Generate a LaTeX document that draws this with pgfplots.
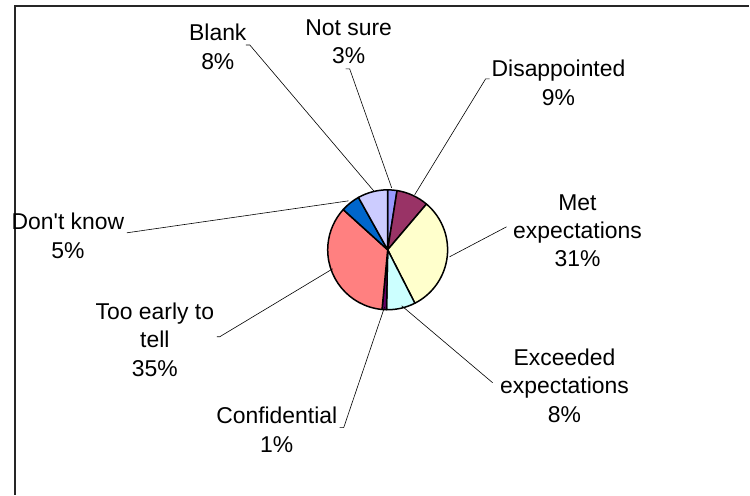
\documentclass[border=0pt]{standalone}
\usepackage{pgfplots}
\pgfplotsset{compat=1.18}
\usepackage{fontspec}
\setmainfont{Liberation Sans}
\definecolor{cNotSure}{RGB}{153,153,255}
\definecolor{cDisap}{RGB}{153,51,102}
\definecolor{cMet}{RGB}{255,255,204}
\definecolor{cExc}{RGB}{204,255,255}
\definecolor{cConf}{RGB}{102,0,102}
\definecolor{cEarly}{RGB}{255,128,128}
\definecolor{cDK}{RGB}{0,102,204}
\definecolor{cBlank}{RGB}{204,204,255}
\begin{document}
\begin{tikzpicture}
\begin{axis}[
  scale only axis, width=750bp, height=495bp,
  xmin=0, xmax=750, ymin=0, ymax=495, y dir=reverse,
  hide axis, clip=false,
]
\pgfplotsextra{
  \path (axis cs:0,0) rectangle (axis cs:750,495);
  % frame
  \draw[line width=1.3bp, black!85] (axis cs:15,495) -- (axis cs:15,6) -- (axis cs:750,6);
  % pie wedges: value / colour, clockwise from 12 o'clock
  \gdef\cum{0}
  \foreach \v/\c in {2.5/cNotSure, 8.7/cDisap, 31.3/cMet, 7.8/cExc, 1.2/cConf, 35.2/cEarly, 5.2/cDK, 8.1/cBlank}{
    \pgfmathsetmacro\a{90-3.6*\cum}
    \pgfmathsetmacro\b{90-3.6*(\cum+\v)}
    \filldraw[fill=\c, draw=black, line width=1.5bp, line join=round]
      (axis cs:388,250) -- ++(\a:60bp) arc[start angle=\a, end angle=\b, radius=60bp] -- cycle;
    \pgfmathsetmacro\n{\cum+\v}\xdef\cum{\n}
  }
  % leader lines
  \begin{scope}[line width=0.6bp]
  \draw (axis cs:246,45) -- (axis cs:250,45) -- (axis cs:374,191);
  \draw (axis cs:346,69) -- (axis cs:350,69) -- (axis cs:392,188);
  \draw (axis cs:490,79) -- (axis cs:486,79) -- (axis cs:415,195);
  \draw (axis cs:507,227) -- (axis cs:450,257);
  \draw (axis cs:493,383) -- (axis cs:402,306);
  \draw (axis cs:340,428) -- (axis cs:344,428) -- (axis cs:385,307);
  \draw (axis cs:217,337) -- (axis cs:220,337) -- (axis cs:333,269);
  \draw (axis cs:127,233) -- (axis cs:349,201);
  \end{scope}
  % labels
  \begin{scope}[every node/.style={align=center, inner sep=0pt, font=\fontsize{23}{28.5}\selectfont}]
  \node at (axis cs:218,47) {Blank\\8\%};
  \node at (axis cs:349,42) {Not sure\\3\%};
  \node at (axis cs:559,83) {Disappointed\\9\%};
  \node at (axis cs:578,231) {Met\\expectations\\31\%};
  \node at (axis cs:565,386) {Exceeded\\expectations\\8\%};
  \node at (axis cs:277,430) {Confidential\\1\%};
  \node at (axis cs:155,340) {Too early to\\tell\\35\%};
  \node at (axis cs:68,236) {Don\textquotesingle t know\\5\%};
  \end{scope}
}
\end{axis}
\end{tikzpicture}
\end{document}
